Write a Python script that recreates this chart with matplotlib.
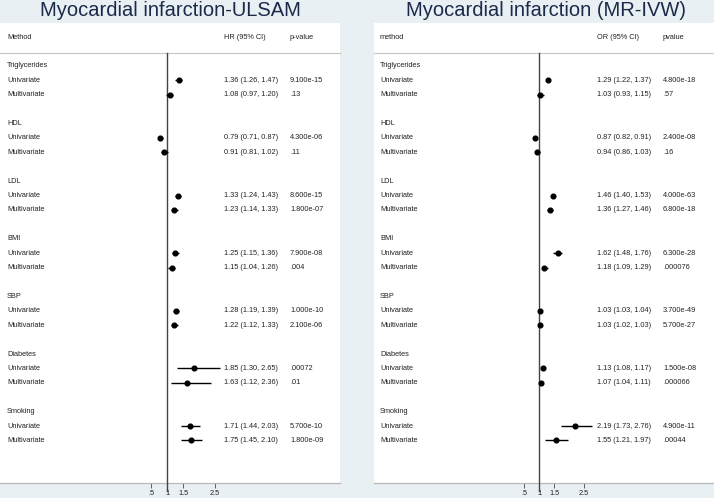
import matplotlib
matplotlib.use("Agg")
import matplotlib.pyplot as plt
import matplotlib.transforms as mtransforms

plt.rcParams['font.family'] = ['Liberation Sans', 'DejaVu Sans']

groups = ["Triglycerides", "HDL", "LDL", "BMI", "SBP", "Diabetes", "Smoking"]
methods = ["Univariate", "Multivariate"]

# ULSAM (HR)
ulsam_est = [1.36, 1.08, 0.79, 0.91, 1.33, 1.23, 1.25, 1.15, 1.28, 1.22, 1.85, 1.63, 1.71, 1.75]
ulsam_lo = [1.26, 0.97, 0.71, 0.81, 1.24, 1.14, 1.15, 1.04, 1.19, 1.12, 1.30, 1.12, 1.44, 1.45]
ulsam_hi = [1.47, 1.20, 0.87, 1.02, 1.43, 1.33, 1.36, 1.26, 1.39, 1.33, 2.65, 2.36, 2.03, 2.10]
ulsam_p = ["9.100e-15", ".13", "4.300e-06", ".11", "8.600e-15", "1.800e-07", "7.900e-08", ".004",
           "1.000e-10", "2.100e-06", ".00072", ".01", "5.700e-10", "1.800e-09"]

# MR-IVW (OR)
mr_est = [1.29, 1.03, 0.87, 0.94, 1.46, 1.36, 1.62, 1.18, 1.03, 1.03, 1.13, 1.07, 2.19, 1.55]
mr_lo = [1.22, 0.93, 0.82, 0.86, 1.40, 1.27, 1.48, 1.09, 1.03, 1.02, 1.08, 1.04, 1.73, 1.21]
mr_hi = [1.37, 1.15, 0.91, 1.03, 1.53, 1.46, 1.76, 1.29, 1.04, 1.03, 1.17, 1.11, 2.76, 1.97]
mr_p = ["4.800e-18", ".57", "2.400e-08", ".16", "4.000e-63", "6.800e-18", "6.300e-28", ".000076",
        "3.700e-49", "5.700e-27", "1.500e-08", ".000066", "4.900e-11", ".00044"]

tick_vals = [0.5, 1, 1.5, 2.5]
tick_labels = [".5", "1", "1.5", "2.5"]

W, H = 714, 498
BG = "#e9f0f3"
TXT = "#222222"
fig = plt.figure(figsize=(W / 100, H / 100), dpi=100, facecolor=BG)

FS = 5.3


def panel(px_left, px_right, one_px, px_per_unit, title, title_cx, est, lo, hi, pv,
          head_method, head_est, head_p, col_est_px, col_p_px, label_px):
    top_px, bot_px = 23, 483
    ax = fig.add_axes([px_left / W, 1 - bot_px / H, (px_right - px_left) / W, (bot_px - top_px) / H])
    ax.set_facecolor("white")
    # row geometry
    r0_px, dr = 66, 14.4
    ax.set_ylim((bot_px - r0_px) / dr, (top_px - r0_px) / dr)
    ax.set_xlim(1 - (one_px - px_left) / px_per_unit, 1 + (px_right - one_px) / px_per_unit)
    for s in ["top", "left", "right"]:
        ax.spines[s].set_visible(False)
    ax.spines["bottom"].set_color("#b8b8b8")
    ax.spines["bottom"].set_linewidth(0.9)
    ax.set_yticks([])
    ax.set_xticks(tick_vals)
    ax.set_xticklabels(tick_labels, fontsize=FS, color=TXT)
    ax.tick_params(axis="x", length=3.5, width=0.6, pad=1.5, color="#444444")

    tr = mtransforms.blended_transform_factory(ax.transAxes, ax.transData)
    def axx(px):
        return (px - px_left) / (px_right - px_left)

    # header
    hy = (38 - r0_px) / dr
    ax.text(axx(label_px), hy, head_method, transform=tr, fontsize=FS, color=TXT, va="center")
    ax.text(axx(col_est_px), hy, head_est, transform=tr, fontsize=FS, color=TXT, va="center")
    ax.text(axx(col_p_px), hy, head_p, transform=tr, fontsize=FS, color=TXT, va="center")
    sep_y = (53 - r0_px) / dr
    ax.plot([0, 1], [sep_y, sep_y], transform=tr, color="#c8c8c8", lw=0.9, clip_on=False)

    # reference line
    ax.plot([1, 1], [sep_y, (491 - r0_px) / dr], color="#444444", lw=1.0, clip_on=False, zorder=3)

    k = 0
    for g_i, g in enumerate(groups):
        base = g_i * 4
        ax.text(axx(label_px), base, g, transform=tr, fontsize=FS, color=TXT, va="center")
        for m_i, m in enumerate(methods):
            y = base + 1 + m_i
            ax.text(axx(label_px), y, m, transform=tr, fontsize=FS, color=TXT, va="center")
            ax.plot([lo[k], hi[k]], [y, y], color="black", lw=1.0, solid_capstyle="butt", zorder=4)
            ax.plot([est[k]], [y], marker="o", ms=3.4, color="black", zorder=5)
            ax.text(axx(col_est_px), y, f"{est[k]:.2f} ({lo[k]:.2f}, {hi[k]:.2f})", transform=tr,
                    fontsize=FS, color=TXT, va="center")
            ax.text(axx(col_p_px), y, pv[k], transform=tr, fontsize=FS, color=TXT, va="center")
            k += 1

    fig.text(title_cx / W, 1 - 11 / H, title, ha="center", va="center", fontsize=14.5, color="#1b2a4a")
    return ax


panel(0, 340, 167, 32, "Myocardial infarction-ULSAM", 170, ulsam_est, ulsam_lo, ulsam_hi, ulsam_p,
      "Method", "HR (95% CI)", "p-value", 224, 290, 7)
panel(374, 714, 539, 30, "Myocardial infarction (MR-IVW)", 546, mr_est, mr_lo, mr_hi, mr_p,
      "method", "OR (95% CI)", "pvalue", 597, 663, 380)

fig.savefig("out.png", dpi=100, facecolor=BG)
